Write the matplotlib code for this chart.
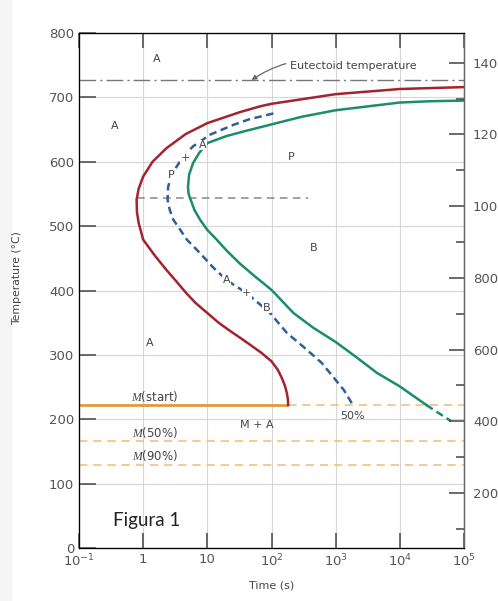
import numpy as np
import matplotlib.pyplot as plt
from matplotlib.ticker import FixedLocator, FixedFormatter, NullFormatter

plt.rcParams['mathtext.fontset'] = 'custom'
plt.rcParams['mathtext.it'] = 'Liberation Serif:italic'
plt.rcParams['mathtext.rm'] = 'DejaVu Sans'

# start of transformation (red), time in s, temperature in C
red_t = [1e5, 1e4, 1e3, 100, 66, 32, 10, 4.6, 2.3, 1.4, 1.0, 0.85, 0.79, 0.8, 0.85, 1.0, 1.5,
         2.3, 3.3, 4.6, 6.5, 10, 15, 22, 32, 46, 70, 100, 125, 145, 162, 174, 180, 182]
red_c = [716, 713, 705, 690, 686, 677, 660, 643, 621, 600, 577, 558, 541, 522, 505, 479, 455,
         432, 414, 397, 381, 365, 350, 338, 327, 316, 303, 290, 277, 264, 252, 240, 231, 222]
# 50% completion (blue dashed)
blue_t = [107, 45, 25, 11, 6, 4.2, 3.3, 2.7, 2.45, 2.4, 2.6, 2.95, 3.8, 4.8, 7.7, 12, 20, 41,
          83, 95, 174, 310, 600, 910, 1350, 1780]
blue_c = [675, 666, 657, 642, 624, 608, 592, 576, 561, 541, 525, 510, 494, 479, 458, 437, 416, 396,
          370, 365, 334, 313, 288, 266, 245, 225]
# end of transformation (green)
green_t = [1e5, 3e4, 1e4, 1e3, 300, 100, 40, 20, 10, 7.5, 6, 5.2, 5.0, 5.1, 5.5, 6.3, 7.7, 10, 14,
           20, 32, 55, 100, 220, 450, 1e3, 2e3, 4.4e3, 1e4, 2.6e4]
green_c = [695, 694, 692, 680, 670, 658, 648, 640, 629, 614, 598, 580, 561, 550, 541, 525, 510,
           494, 479, 462, 442, 422, 401, 365, 342, 320, 298, 272, 251, 222]
green_dash_t = [2.6e4, 6.3e4]
green_dash_c = [222, 197]

eutectoid = 727
nose_line_t = [0.79, 370]
nose_line_c = 543
m_start, m_50, m_90 = 222, 166, 129

xticks = [0.1, 1, 10, 100, 1e3, 1e4, 1e5]
xlabels = [r'$\mathdefault{10^{-1}}$', '1', '10', r'$\mathdefault{10^{2}}$',
           r'$\mathdefault{10^{3}}$', r'$\mathdefault{10^{4}}$', r'$\mathdefault{10^{5}}$']
yticks = [0, 100, 200, 300, 400, 500, 600, 700, 800]
f_major = [200, 400, 600, 800, 1000, 1200, 1400]
f_minor = [100, 300, 500, 700, 900, 1100, 1300]

fig = plt.figure(figsize=(4.98, 6.01), dpi=100)
fig.patches.append(plt.Rectangle((0, 0), 11 / 498, 1, transform=fig.transFigure,
                                 color='#f5f5f5', zorder=-5))
ax = fig.add_axes([79 / 498, 1 - 548 / 601, 385 / 498, 515 / 601])
ax.set_xscale('log')
ax.set_xlim(0.1, 1e5)
ax.set_ylim(0, 800)

ax.grid(True, color='#d6d6d6', lw=0.8, which='major')
ax.set_axisbelow(True)

gray = '#555555'
ax.xaxis.set_major_locator(FixedLocator(xticks))
ax.xaxis.set_major_formatter(FixedFormatter(xlabels))
ax.xaxis.set_minor_formatter(NullFormatter())
ax.minorticks_off()
ax.set_yticks(yticks)
ax.tick_params(axis='both', direction='in', color='#444444', width=1.1, labelcolor=gray,
               labelsize=9.5, top=True, right=False)
ax.tick_params(axis='y', length=12.5, pad=3.5)
ax.tick_params(axis='x', length=11, pad=3.5)
for s in ax.spines.values():
    s.set_color('#666666')
    s.set_linewidth(1.0)

ax2 = ax.twinx()
ax2.set_ylim(46.6, 1482.8)
ax2.set_yticks(f_major)
ax2.set_yticks(f_minor, minor=True)
ax2.tick_params(axis='y', which='major', direction='in', length=11, width=1.1, color='#444444',
                labelcolor=gray, labelsize=9.5, pad=6.5)
ax2.tick_params(axis='y', which='minor', direction='in', length=6, width=1.1, color='#444444')
ax2.spines['right'].set_color('#666666')

ax.set_xlabel('Time (s)', fontsize=8, color='#444444')
ax.xaxis.set_label_coords(0.5, -0.064)
ax.set_ylabel('Temperature (°C)', fontsize=7.8, color='#444444')
ax.yaxis.set_label_coords(-0.148, 0.525)

# reference lines
ax.plot([0.1, 1e5], [eutectoid, eutectoid], color='#777777', lw=1.0, dashes=(12, 3, 1.5, 3))
ax.plot(nose_line_t, [nose_line_c, nose_line_c], color='#888888', lw=1.1, dashes=(5, 3.5))
ax.plot([0.1, red_t[-1]], [m_start, m_start], color='#e09a3a', lw=2.0, solid_capstyle='butt')
ax.plot([red_t[-1], 1e5], [m_start, m_start], color='#f2c27e', lw=1.2, dashes=(5, 3.5))
ax.plot([0.1, 1e5], [m_50, m_50], color='#f2c27e', lw=1.2, dashes=(5, 3.5))
ax.plot([0.1, 1e5], [m_90, m_90], color='#f2c27e', lw=1.2, dashes=(5, 3.5))

# transformation curves
ax.plot(red_t, red_c, color='#a3232f', lw=1.8)
ax.plot(green_t, green_c, color='#1c8c6c', lw=1.8)
ax.plot(green_dash_t, green_dash_c, color='#1c8c6c', lw=1.8, dashes=(3, 1.8))
ax.plot(blue_t, blue_c, color='#2e5f98', lw=1.8, dashes=(3, 1.8))

lab = dict(fontsize=8, color='#444444', ha='center', va='center')
box = dict(facecolor='white', edgecolor='none', pad=0.3)
ax.text(1.62, 760, 'A', **lab)
ax.text(0.36, 655, 'A', **lab)
ax.text(205, 608, 'P', **lab)
ax.text(447, 466, 'B', **lab)
ax.text(1.28, 318, 'A', **lab)
ax.text(58, 191, 'M + A', **lab)
ax.text(1860, 205, '50%', **lab)
ax.text(2.75, 579, 'P', bbox=box, **lab)
ax.text(4.5, 606, '+', bbox=box, **lab)
ax.text(8.5, 626, 'A', bbox=box, **lab)
ax.text(20, 416, 'A', bbox=box, **lab)
ax.text(41, 396, '+', bbox=box, **lab)
ax.text(83, 373, 'B', bbox=box, **lab)

ax.text(1.53, 236, '$M$(start)', fontsize=8.5, color='#444444', ha='center', va='center')
ax.text(1.53, 180, '$M$(50%)', fontsize=8.5, color='#444444', ha='center', va='center')
ax.text(1.53, 144, '$M$(90%)', fontsize=8.5, color='#444444', ha='center', va='center')
ax.text(1.12, 42, 'Figura 1', fontsize=13.5, family='Lato', color='#222222',
        ha='center', va='center')

ax.annotate('Eutectoid temperature', xy=(49, eutectoid), xytext=(194, 748),
            fontsize=8, color='#444444', ha='left', va='center',
            arrowprops=dict(arrowstyle='-|>', color='#666666', lw=0.9, mutation_scale=7,
                            shrinkA=1, shrinkB=0, connectionstyle='arc3,rad=0.25'))

fig.savefig('out.png', dpi=100)
